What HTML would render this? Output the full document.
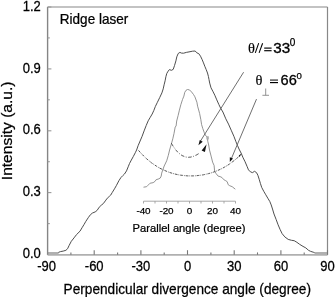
<!DOCTYPE html>
<html><head><meta charset="utf-8"><style>
html,body{margin:0;padding:0;background:#fff;}
body{width:335px;height:297px;overflow:hidden;}
svg{display:block;font-family:"Liberation Sans",sans-serif;will-change:transform;}
text{stroke:#000;stroke-width:0.25px;}
</style></head><body>
<svg width="335" height="297" viewBox="0 0 335 297">
<rect width="335" height="297" fill="#fff"/>
<g fill="none">
<line x1="47.6" y1="7" x2="327.5" y2="7" stroke="#888" stroke-width="1.2"/>
<line x1="327.5" y1="7" x2="327.5" y2="254.8" stroke="#888" stroke-width="1.2"/>
<line x1="47.6" y1="254.8" x2="327.5" y2="254.8" stroke="#b0b0b0" stroke-width="1.7"/>
<rect x="47.6" y="252" width="11" height="3" fill="#b0b0b0"/>
<rect x="314.5" y="252" width="12.8" height="3" fill="#b0b0b0"/>
<line x1="47.6" y1="7" x2="47.6" y2="254.8" stroke="#858585" stroke-width="1.4"/>
<g stroke="#777" stroke-width="1.1"><line x1="70.9" y1="254.8" x2="70.9" y2="252.4"/><line x1="94.2" y1="254.8" x2="94.2" y2="250.20000000000002"/><line x1="117.6" y1="254.8" x2="117.6" y2="252.4"/><line x1="140.9" y1="254.8" x2="140.9" y2="250.20000000000002"/><line x1="164.2" y1="254.8" x2="164.2" y2="252.4"/><line x1="187.5" y1="254.8" x2="187.5" y2="250.20000000000002"/><line x1="210.9" y1="254.8" x2="210.9" y2="252.4"/><line x1="234.2" y1="254.8" x2="234.2" y2="250.20000000000002"/><line x1="257.5" y1="254.8" x2="257.5" y2="252.4"/><line x1="280.9" y1="254.8" x2="280.9" y2="250.20000000000002"/><line x1="304.2" y1="254.8" x2="304.2" y2="252.4"/><line x1="327.5" y1="254.8" x2="327.5" y2="250.20000000000002"/><line x1="47.6" y1="223.6" x2="49.800000000000004" y2="223.6" stroke="#999"/><line x1="47.6" y1="192.6" x2="51.4" y2="192.6" stroke="#999"/><line x1="47.6" y1="161.7" x2="49.800000000000004" y2="161.7" stroke="#999"/><line x1="47.6" y1="130.8" x2="51.4" y2="130.8" stroke="#999"/><line x1="47.6" y1="99.8" x2="49.800000000000004" y2="99.8" stroke="#999"/><line x1="47.6" y1="68.9" x2="51.4" y2="68.9" stroke="#999"/><line x1="47.6" y1="37.9" x2="49.800000000000004" y2="37.9" stroke="#999"/><line x1="47.6" y1="7.0" x2="51.4" y2="7.0" stroke="#999"/></g>
</g>
<polyline points="58.4,252.4 60.5,251.6 63.2,251.1 65.9,250.3 67.6,248.7 69.2,245.3 71.3,241.3 74.0,237.9 76.6,234.5 80.0,231.2 82.0,227.8 84.1,224.4 85.8,221.4 88.5,217.3 90.5,214.6 92.5,213.0 95.2,211.9 97.2,210.3 99.2,207.2 101.3,205.2 103.3,203.6 105.3,200.9 107.3,198.2 109.3,196.4 110.7,195.1 112.3,192.4 114.5,188.8 116.3,185.7 118.9,180.7 120.9,177.6 122.8,175.6 124.5,174.0 126.5,170.9 128.2,166.8 129.5,163.5 131.3,160.1 133.3,156.5 135.3,152.7 136.6,150.0 138.1,145.7 140.1,141.0 142.1,136.3 144.1,130.9 146.2,125.5 148.2,120.8 150.2,117.4 152.2,114.0 153.8,110.5 155.4,106.4 157.4,102.3 159.7,97.6 161.9,92.9 163.2,88.9 164.1,84.8 165.1,80.8 165.9,76.7 166.8,73.4 168.2,71.1 169.4,69.6 171.4,70.3 173.2,69.4 174.5,65.6 175.9,60.9 176.8,56.8 178.2,53.5 179.9,52.4 181.5,53.1 183.6,53.2 186.3,52.4 189.0,51.9 192.5,51.2 195.2,51.0 196.8,52.8 198.8,53.7 200.5,56.2 202.1,59.5 203.5,62.9 204.8,66.3 206.2,69.6 207.5,73.0 208.4,76.4 209.0,79.5 209.7,83.1 211.0,87.8 212.8,91.2 214.8,95.2 216.8,99.9 218.9,104.6 220.9,108.7 222.9,112.0 224.2,115.0 225.8,118.8 228.5,124.1 231.2,130.2 233.9,136.3 235.9,141.6 237.5,145.5 239.0,149.0 241.1,153.1 243.1,157.8 245.1,161.8 247.1,166.5 248.5,169.9 250.5,171.9 252.5,172.6 254.5,171.3 256.5,172.6 257.9,175.3 259.2,179.3 260.4,183.4 261.7,187.4 263.8,191.4 265.8,194.8 267.8,198.2 269.8,201.5 271.2,204.9 272.5,209.0 274.0,214.0 276.1,219.4 278.1,224.8 280.1,229.5 282.1,233.6 284.8,236.9 288.2,239.4 291.5,240.3 294.2,240.7 296.9,242.3 299.6,244.3 303.0,246.4 305.8,247.9 308.5,250.3 310.5,251.3 313.2,252.2 314.5,252.5" fill="none" stroke="#444" stroke-width="0.95" stroke-linejoin="round"/>
<polyline points="143.5,187.2 146.6,186.7 148.1,185.2 150.1,183.2 153.1,182.7 155.2,181.2 156.2,179.6 158.2,179.1 160.2,178.1 161.2,176.1 161.7,173.1 162.7,170.1 164.2,166.0 166.7,160.8 168.3,155.4 169.6,150.0 171.2,144.5 172.8,138.8 174.0,133.5 175.2,127.0 176.1,126.0 176.7,121.0 178.1,115.6 179.4,110.2 180.8,104.8 182.5,99.5 183.9,96.1 184.7,92.5 186.0,90.3 187.5,89.5 189.5,89.9 191.6,92.0 193.5,94.5 194.9,96.8 196.9,102.2 197.6,106.2 198.4,109.0 199.6,113.4 200.8,119.5 201.6,124.6 202.8,128.6 204.3,132.7 205.7,135.7 207.3,137.0 207.8,141.5 208.7,145.0 209.5,150.0 211.1,156.1 212.6,162.1 214.1,165.5 214.6,171.1 216.1,173.6 218.1,176.1 220.1,176.6 222.1,177.6 223.7,179.6 225.7,180.7 227.2,181.7 228.2,184.7 229.7,185.7 232.2,186.7 235.3,189.2" fill="none" stroke="#808080" stroke-width="0.85" stroke-linejoin="round"/>
<rect x="206.4" y="136.3" width="2.4" height="3.2" fill="#aaa"/>
<g stroke="#999" stroke-width="0.85" fill="none">
<line x1="143.5" y1="201.2" x2="235.5" y2="201.2"/>
<line x1="143.5" y1="201.2" x2="143.5" y2="203.5"/><line x1="155.0" y1="201.2" x2="155.0" y2="203.5"/><line x1="166.5" y1="201.2" x2="166.5" y2="203.5"/><line x1="178.0" y1="201.2" x2="178.0" y2="203.5"/><line x1="189.5" y1="201.2" x2="189.5" y2="203.5"/><line x1="201.0" y1="201.2" x2="201.0" y2="203.5"/><line x1="212.5" y1="201.2" x2="212.5" y2="203.5"/><line x1="224.0" y1="201.2" x2="224.0" y2="203.5"/><line x1="235.5" y1="201.2" x2="235.5" y2="203.5"/>
</g>
<polyline points="138.5,150.4 141.1,153.3 143.7,156.0 146.3,158.5 148.9,160.7 151.5,162.8 154.1,164.6 156.7,166.3 159.3,167.9 161.9,169.2 164.5,170.4 167.1,171.5 169.7,172.5 172.3,173.3 174.9,174.0 177.5,174.6 180.1,175.1 182.7,175.4 185.3,175.7 187.9,175.9 190.4,175.9 193.0,175.9 195.6,175.8 198.2,175.5 200.8,175.2 203.4,174.8 206.0,174.2 208.6,173.6 211.2,172.9 213.8,172.0 216.4,171.0 219.0,169.9 221.6,168.7 224.2,167.3 226.8,165.8 229.4,164.1 232.0,162.2 234.6,160.2 237.2,158.0 239.8,155.6" fill="none" stroke="#444" stroke-width="0.9" stroke-dasharray="2.8 1 0.7 1"/>
<polyline points="171.4,143.3 172.1,144.5 172.8,145.7 173.5,146.8 174.3,147.8 175.0,148.8 175.7,149.8 176.4,150.6 177.1,151.4 177.8,152.2 178.6,152.9 179.3,153.5 180.0,154.1 180.7,154.6 181.4,155.1 182.1,155.5 182.8,155.9 183.6,156.2 184.3,156.5 185.0,156.8 185.7,157.0 186.4,157.1 187.1,157.2 187.9,157.3 188.6,157.3 189.3,157.2 190.0,157.2 190.7,157.1 191.4,156.9 192.1,156.8 192.9,156.5 193.6,156.3 194.3,156.0 195.0,155.7 195.7,155.3 196.4,155.0 197.2,154.6 197.9,154.1 198.6,153.7 199.3,153.2" fill="none" stroke="#333" stroke-width="0.9" stroke-dasharray="3.6 1.6 0.8 1.6"/>
<path d="M206.6,144.2 L201.6,150.4 L204.9,151.9 Z" fill="#111"/>
<path d="M241.6,153.4 L238.8,155.6 L239.6,157 Z" fill="#111"/>
<g stroke="#555" stroke-width="0.85">
<line x1="243.6" y1="72.2" x2="200.5" y2="141"/>
<line x1="256.5" y1="99.1" x2="231" y2="159.5"/>
</g>
<path d="M198.4,145.2 L199.8,139.9 L202.7,141.7 Z" fill="#111"/>
<path d="M229.8,162.1 L229.8,157.2 L233,158.4 Z" fill="#111"/>
<g font-size="13" fill="#000">
<text transform="translate(46.6,271.2) scale(1,1.07)" text-anchor="middle">-90</text><text transform="translate(94.2,271.2) scale(1,1.07)" text-anchor="middle">-60</text><text transform="translate(140.9,271.2) scale(1,1.07)" text-anchor="middle">-30</text><text transform="translate(187.5,271.2) scale(1,1.07)" text-anchor="middle">0</text><text transform="translate(234.2,271.2) scale(1,1.07)" text-anchor="middle">30</text><text transform="translate(280.9,271.2) scale(1,1.07)" text-anchor="middle">60</text><text transform="translate(327.5,271.2) scale(1,1.07)" text-anchor="middle">90</text>
<text transform="translate(40.8,258.1) scale(1,1.07)" text-anchor="end">0.0</text><text transform="translate(40.8,196.2) scale(1,1.07)" text-anchor="end">0.3</text><text transform="translate(40.8,134.3) scale(1,1.07)" text-anchor="end">0.6</text><text transform="translate(40.8,72.5) scale(1,1.07)" text-anchor="end">0.9</text><text transform="translate(40.8,10.6) scale(1,1.07)" text-anchor="end">1.2</text>
<text transform="translate(59.8,24.4) scale(0.967,1)" font-size="14">Ridge laser</text>
<text transform="translate(63.6,293.8) scale(0.962,1)" font-size="14.2">Perpendicular divergence angle (degree)</text>
<text transform="translate(11.8,180.2) rotate(-90) scale(1.053,1)" font-size="14.8">Intensity (a.u.)</text>
</g>
<g font-size="9.9" fill="#000" letter-spacing="-0.2">
<text x="143.4" y="214" text-anchor="middle">-40</text><text x="166.4" y="214" text-anchor="middle">-20</text><text x="189.4" y="214" text-anchor="middle">0</text><text x="212.4" y="214" text-anchor="middle">20</text><text x="235.4" y="214" text-anchor="middle">40</text>
</g>
<text transform="translate(132.6,231.6) scale(0.963,1)" font-size="11.6" fill="#000">Parallel angle (degree)</text>
<g fill="#000">
<text transform="translate(248.1,53) scale(1.05,1)" font-size="13.8" font-family="Liberation Serif" style="stroke-width:0.15px">θ</text>
<g stroke="#000" stroke-width="1.05"><line x1="255.3" y1="52.9" x2="258.7" y2="43.2"/><line x1="259.1" y1="52.9" x2="262.6" y2="43.2"/></g>
<g stroke="#000" stroke-width="1.15"><line x1="264.2" y1="48.1" x2="271.6" y2="48.1"/><line x1="264.2" y1="50.7" x2="271.6" y2="50.7"/></g>
<text x="273.2" y="53" font-size="15.2" style="stroke-width:0.35px">33</text>
<text x="289.7" y="46" font-size="10">0</text>
<text transform="translate(255.6,84.8) scale(1.05,1)" font-size="13.8" font-family="Liberation Serif" style="stroke-width:0.15px">θ</text>
<g><line x1="270" y1="80.1" x2="278" y2="80.1" stroke="#555" stroke-width="1.5"/><line x1="270" y1="82.6" x2="278" y2="82.6" stroke="#000" stroke-width="1.15"/></g>
<text x="280.6" y="85.2" font-size="14.6" style="stroke-width:0.3px">66</text>
<text x="296.6" y="78.9" font-size="9.6">0</text>
</g>
<g stroke="#888" stroke-width="0.9"><line x1="265.7" y1="88.5" x2="265.7" y2="95.3"/><line x1="262.4" y1="95.3" x2="269" y2="95.3"/></g>
</svg>
</body></html>
